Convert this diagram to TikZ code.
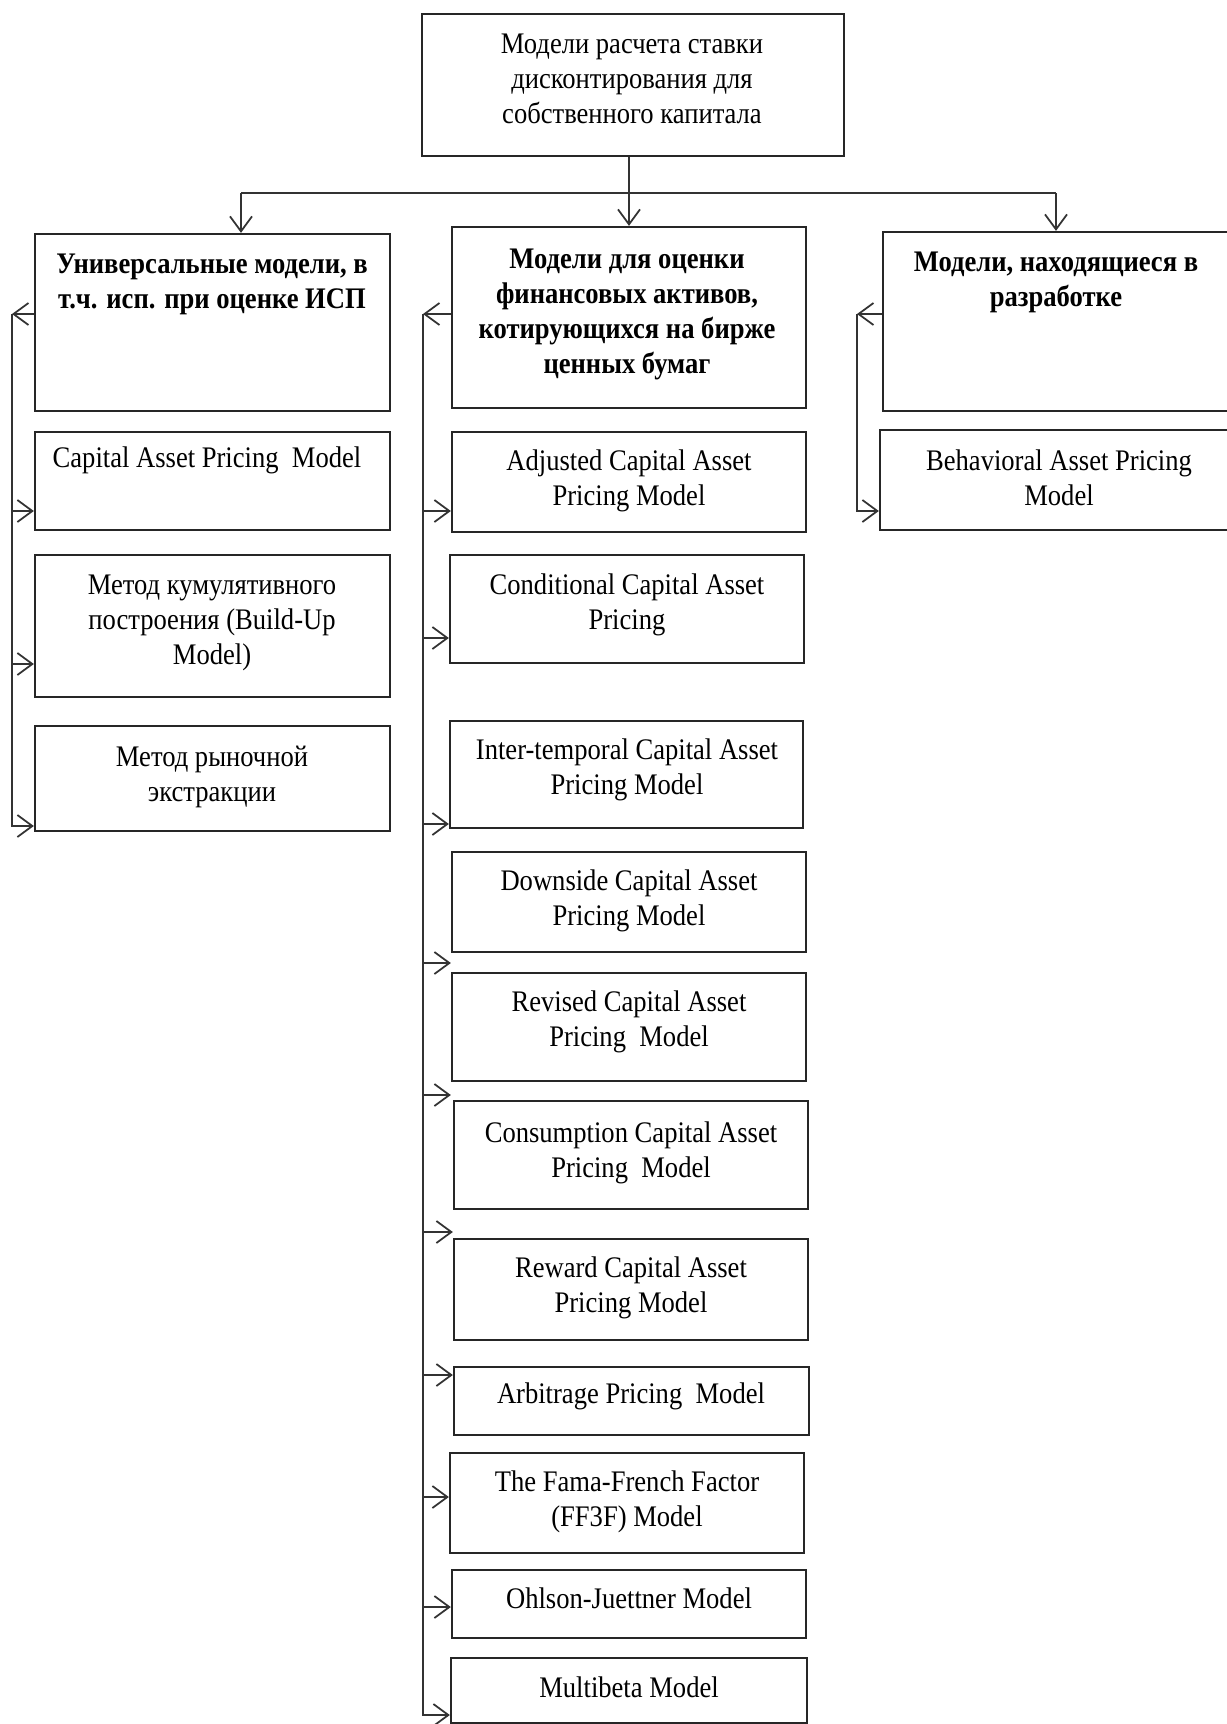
\documentclass[tikz,border=0pt]{standalone}
\usepackage{fontspec}
\setmainfont{Liberation Serif}[FakeStretch=0.89]
\usetikzlibrary{arrows.meta,fit}
\begin{document}
\begin{tikzpicture}[x=0.02cm,y=-0.02cm,
  box/.style={draw=black!85, line width=1.3pt, inner sep=0pt, rectangle},
  conn/.style={draw=black!80, line width=1pt},
  arr/.style={conn, -{Straight Barb[length=0.3cm,width=0.44cm,line width=1pt]}},
  txt/.style={anchor=base, align=center, inner sep=0pt, font=\fontsize{17pt}{19.9pt}\selectfont},
  btxt/.style={txt, font=\fontsize{17pt}{19.9pt}\selectfont\bfseries}]
\clip (0,0) rectangle (1227,1724);
\fill[white] (0,0) rectangle (1227,1724);
% boxes
\node[box, fit={(422,14) (844,156)}] (T) {};
\node[box, fit={(35,234) (390,411)}] (L1) {};
\node[box, fit={(35,432) (390,530)}] (L2) {};
\node[box, fit={(35,555) (390,697)}] (L3) {};
\node[box, fit={(35,726) (390,831)}] (L4) {};
\node[box, fit={(452,227) (806,408)}] (C1) {};
\node[box, fit={(452,432) (806,532)}] (C2) {};
\node[box, fit={(450,555) (804,663)}] (C3) {};
\node[box, fit={(450,721) (803,828)}] (C4) {};
\node[box, fit={(452,852) (806,952)}] (C5) {};
\node[box, fit={(452,973) (806,1081)}] (C6) {};
\node[box, fit={(454,1101) (808,1209)}] (C7) {};
\node[box, fit={(454,1239) (808,1340)}] (C8) {};
\node[box, fit={(454,1367) (809,1435)}] (C9) {};
\node[box, fit={(450,1453) (804,1553)}] (C10) {};
\node[box, fit={(452,1570) (806,1638)}] (C11) {};
\node[box, fit={(451,1658) (807,1723)}] (C12) {};
\node[box, fit={(883,232) (1240,411)}] (R1) {};
\node[box, fit={(880,430) (1240,530)}] (R2) {};
% texts (anchor = baseline of the last line)
\node[txt] (tT) at (632,123) {Модели расчета ставки\\дисконтирования для\\собственного капитала};
\node[btxt] (tL1) at (212,308) {Универсальные модели, в\\т.ч. исп. при оценке ИСП};
\node[txt] (tL2) at (207,467) {Capital Asset Pricing\ \ Model};
\node[txt] (tL3) at (212,664) {Метод кумулятивного\\построения (Build-Up\\Model)};
\node[txt] (tL4) at (212,801) {Метод рыночной\\экстракции};
\node[btxt] (tC1) at (627,373) {Модели для оценки\\финансовых активов,\\котирующихся на бирже\\ценных бумаг};
\node[txt] (tC2) at (629,505) {Adjusted Capital Asset\\Pricing Model};
\node[txt] (tC3) at (627,629) {Conditional Capital Asset\\Pricing};
\node[txt] (tC4) at (627,794) {Inter-temporal Capital Asset\\Pricing Model};
\node[txt] (tC5) at (629,925) {Downside Capital Asset\\Pricing Model};
\node[txt] (tC6) at (629,1046) {Revised Capital Asset\\Pricing\ \ Model};
\node[txt] (tC7) at (631,1177) {Consumption Capital Asset\\Pricing\ \ Model};
\node[txt] (tC8) at (631,1312) {Reward Capital Asset\\Pricing Model};
\node[txt] (tC9) at (631,1403) {Arbitrage Pricing\ \ Model};
\node[txt] (tC10) at (627,1526) {The Fama-French Factor\\(FF3F) Model};
\node[txt] (tC11) at (629,1608) {Ohlson-Juettner Model};
\node[txt] (tC12) at (629,1697) {Multibeta Model};
\node[btxt] (tR1) at (1056,306) {Модели, находящиеся в\\разработке};
\node[txt] (tR2) at (1059,505) {Behavioral Asset Pricing\\Model};
% top connectors
\coordinate (hL) at (241,193);
\coordinate (hR) at (1056,193);
\draw[arr] (T.south -| C1.north) -- (C1.north);
\draw[conn] (hL) -- (hR);
\draw[arr] (hL) -- (hL |- L1.north);
\draw[arr] (hR) -- (hR |- R1.north);
% left bus
\coordinate (lb0) at (12,314);
\coordinate (lb1) at (12,511);
\coordinate (lb2) at (12,664);
\coordinate (lb3) at (12,826);
\draw[arr] (L1.west |- lb0) -- (lb0);
\draw[arr] (lb0) -- (lb3) -- (L4.west |- lb3);
\draw[arr] (lb1) -- (L2.west |- lb1);
\draw[arr] (lb2) -- (L3.west |- lb2);
% center bus
\coordinate (cb0) at (423,314);
\coordinate (cb1) at (423,511);
\coordinate (cb2) at (423,638);
\coordinate (cb3) at (423,824);
\coordinate (cb4) at (423,963);
\coordinate (cb5) at (423,1095);
\coordinate (cb6) at (423,1232);
\coordinate (cb7) at (423,1375);
\coordinate (cb8) at (423,1497);
\coordinate (cb9) at (423,1607);
\coordinate (cb10) at (423,1715);
\draw[arr] (C1.west |- cb0) -- (cb0);
\draw[arr] (cb0) -- (cb10) -- (C12.west |- cb10);
\draw[arr] (cb1) -- (C2.west |- cb1);
\draw[arr] (cb2) -- (C3.west |- cb2);
\draw[arr] (cb3) -- (C4.west |- cb3);
\draw[arr] (cb4) -- (C5.west |- cb4);
\draw[arr] (cb5) -- (C6.west |- cb5);
\draw[arr] (cb6) -- (C8.west |- cb6);
\draw[arr] (cb7) -- (C9.west |- cb7);
\draw[arr] (cb8) -- (C10.west |- cb8);
\draw[arr] (cb9) -- (C11.west |- cb9);
% right bus
\coordinate (rb0) at (857,314);
\coordinate (rb1) at (857,511);
\draw[arr] (R1.west |- rb0) -- (rb0);
\draw[arr] (rb0) -- (rb1) -- (R2.west |- rb1);
\end{tikzpicture}
\end{document}
